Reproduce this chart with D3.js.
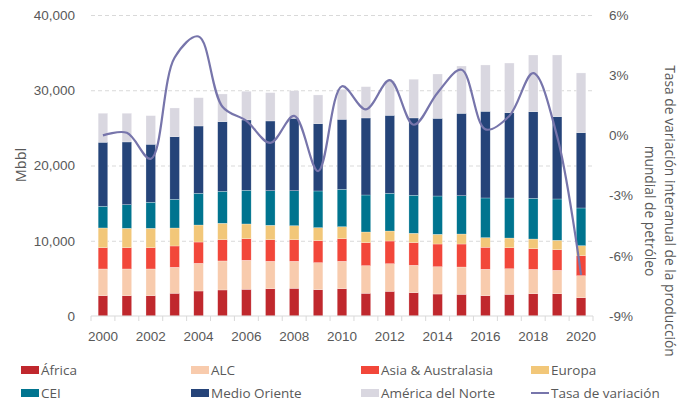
<!DOCTYPE html>
<html>
<head>
<meta charset="utf-8">
<script src="https://cdn.jsdelivr.net/npm/d3@7"></script>
<style>
  body { margin: 0; background: #fff; }
  svg { display: block; font-family: 'Open Sans', sans-serif; }
  text { fill: #595959; }
  .grid line { stroke: #d9d9d9; stroke-dasharray: 4,3; }
  .grid path { display: none; }
  .axis path { display: none; }
  .axis line { display: none; }
</style>
</head>
<body>
<svg width="690" height="403"></svg>
<script>
// years on the x axis
const years = d3.range(2000, 2021).map(String);

// series names (stack order, bottom to top)
const regions = ['África', 'ALC', 'Asia & Australasia', 'Europa', 'CEI', 'Medio Oriente', 'América del Norte'];
const colors = ['#c0282d', '#f8cbad', '#f2473a', '#f2c779', '#00748f', '#254479', '#d9d7e0'];

// production by region, Mbbl
const africa = [2700, 2700, 2700, 3020, 3320, 3460, 3550, 3630, 3680, 3500, 3630, 3020, 3280, 3100, 2920, 2880, 2700, 2880, 2960, 2960, 2430];
const alc = [3550, 3550, 3550, 3455, 3680, 3855, 3855, 3640, 3590, 3590, 3640, 3670, 3670, 3640, 3630, 3630, 3510, 3400, 3240, 3110, 2925];
const asia = [2830, 2830, 2830, 2830, 2830, 2830, 2870, 2870, 2870, 2925, 3000, 3055, 3015, 3005, 3015, 3055, 2925, 2790, 2740, 2740, 2660];
const europa = [2620, 2575, 2575, 2390, 2260, 2180, 1955, 1915, 1860, 1725, 1595, 1420, 1330, 1250, 1290, 1330, 1275, 1290, 1290, 1250, 1330];
const cei = [2885, 3140, 3460, 3815, 4215, 4250, 4480, 4600, 4650, 4875, 4970, 4915, 5010, 5050, 5090, 5090, 5275, 5315, 5410, 5490, 5010];
const medioOriente = [8505, 8335, 7710, 8320, 8945, 9250, 9345, 9265, 9620, 8945, 9305, 10235, 10365, 10275, 10325, 10950, 11520, 11335, 11510, 10940, 10010];
const americaNorte = [3855, 3815, 3800, 3815, 3760, 3680, 3815, 3760, 3670, 3815, 3985, 4160, 4600, 5145, 5890, 6285, 6155, 6605, 7535, 8200, 7935];

// tasa de variación interanual, %
const tasa = [0.0, 0.13, -1.17, 3.88, 4.93, 1.43, 0.72, -0.37, 0.97, -1.78, 2.45, 1.3, 2.75, 0.53, 2.13, 3.27, 0.3, 0.97, 3.1, -0.05, -6.95];

const leftTicks = [0, 10000, 20000, 30000, 40000];
const rightTicks = [-9, -6, -3, 0, 3, 6];
const xLabels = years.filter((y, i) => i % 2 === 0);

const seriesValues = [africa, alc, asia, europa, cei, medioOriente, americaNorte];

// table for d3.stack
const table = years.map((y, i) => {
  const row = { year: y };
  regions.forEach((r, k) => { row[r] = seriesValues[k][i]; });
  return row;
});

const svg = d3.select('svg');

// plot area edges
const plotLeft = 91, plotRight = 593, plotTop = 15, plotBottom = 316;

const xScale = d3.scaleBand()
  .domain(years)
  .range([plotLeft, plotRight])
  .paddingInner(0.6)
  .paddingOuter(0.3);

const yScale = d3.scaleLinear()
  .domain([0, 40000])
  .range([plotBottom, plotTop]);

const y2Scale = d3.scaleLinear()
  .domain([-9, 6])
  .range([plotBottom, plotTop]);

// dashed grid lines
svg.append('g')
  .attr('class', 'grid')
  .attr('transform', `translate(${plotLeft}, 0)`)
  .call(d3.axisLeft(yScale)
    .tickValues(leftTicks.slice(1))
    .tickSize(-(plotRight - plotLeft))
    .tickFormat('')
  );

// stacked bars
const stacked = d3.stack().keys(regions)(table);

svg.append('g')
  .selectAll('g')
  .data(stacked)
  .join('g')
  .attr('fill', (d, i) => colors[i])
  .selectAll('rect')
  .data(d => d)
  .join('rect')
  .attr('x', d => xScale(d.data.year))
  .attr('y', d => yScale(d[1]))
  .attr('height', d => yScale(d[0]) - yScale(d[1]))
  .attr('width', xScale.bandwidth())
  .attr('stroke', '#ffffff')
  .attr('stroke-opacity', 0.5)
  .attr('stroke-width', 0.5);

// x axis base line + ticks between the bars
svg.append('line')
  .attr('x1', plotLeft).attr('x2', plotRight)
  .attr('y1', plotBottom).attr('y2', plotBottom)
  .attr('stroke', '#d9d9d9');

svg.append('g')
  .selectAll('line')
  .data(d3.range(years.length + 1))
  .join('line')
  .attr('x1', i => plotLeft + i * xScale.step())
  .attr('x2', i => plotLeft + i * xScale.step())
  .attr('y1', plotBottom)
  .attr('y2', plotBottom + 5)
  .attr('stroke', '#d9d9d9');

// x labels
svg.append('g')
  .attr('class', 'axis')
  .attr('transform', `translate(0, ${plotBottom})`)
  .call(d3.axisBottom(xScale).tickValues(xLabels).tickSize(0).tickPadding(15))
  .selectAll('text')
  .style('font-size', '13.5px')
  .attr('fill', '#595959');

// left axis
svg.append('g')
  .attr('class', 'axis')
  .attr('transform', `translate(${plotLeft}, 0)`)
  .call(d3.axisLeft(yScale).tickValues(leftTicks).tickSize(0).tickPadding(16).tickFormat(d3.format(',')))
  .selectAll('text')
  .style('font-size', '13.5px')
  .attr('fill', '#595959');

// right axis
svg.append('g')
  .attr('class', 'axis')
  .attr('transform', `translate(${plotRight}, 0)`)
  .call(d3.axisRight(y2Scale).tickValues(rightTicks).tickSize(0).tickPadding(16).tickFormat(d => d + '%'))
  .selectAll('text')
  .style('font-size', '13.5px')
  .attr('fill', '#595959');

// growth line
const line = d3.line()
  .x((d, i) => xScale(years[i]) + xScale.bandwidth() / 2)
  .y(d => y2Scale(d))
  .curve(d3.curveCatmullRom.alpha(0.5));

svg.append('path')
  .datum(tasa)
  .attr('fill', 'none')
  .attr('stroke', '#7775ab')
  .attr('stroke-width', 2.2)
  .attr('d', line);

// axis titles
svg.append('text')
  .attr('transform', 'translate(26, 165) rotate(-90)')
  .attr('text-anchor', 'middle')
  .style('font-size', '14.5px')
  .text('Mbbl');

svg.append('text')
  .attr('transform', 'translate(665, 211) rotate(90)')
  .attr('text-anchor', 'middle')
  .style('font-size', '13.8px')
  .text('Tasa de variación interanual de la producción');

svg.append('text')
  .attr('transform', 'translate(645, 211) rotate(90)')
  .attr('text-anchor', 'middle')
  .style('font-size', '13.8px')
  .text('mundial de petróleo');

// legend
const legendItems = regions.map((r, i) => ({ name: r, color: colors[i], type: 'rect' }))
  .concat([{ name: 'Tasa de variación', color: '#7775ab', type: 'line' }]);

const legend = svg.append('g')
  .selectAll('g')
  .data(legendItems)
  .join('g')
  .attr('transform', (d, i) => `translate(${21 + (i % 4) * 170}, ${370 + Math.floor(i / 4) * 23})`);

legend.filter(d => d.type === 'rect')
  .append('rect')
  .attr('x', 0)
  .attr('y', -4)
  .attr('width', 18)
  .attr('height', 8)
  .attr('fill', d => d.color);

legend.filter(d => d.type === 'line')
  .append('line')
  .attr('x1', 0).attr('x2', 18)
  .attr('y1', 0).attr('y2', 0)
  .attr('stroke', d => d.color)
  .attr('stroke-width', 2);

legend.append('text')
  .attr('x', 20)
  .attr('y', 5)
  .style('font-size', '13.5px')
  .text(d => d.name);
</script>
</body>
</html>
